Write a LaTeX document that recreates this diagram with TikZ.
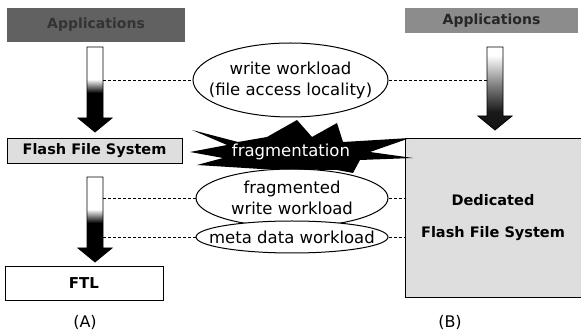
\documentclass[tikz,border=0pt]{standalone}
\usepackage{fontspec}
\setmainfont{DejaVu Sans}
\usetikzlibrary{shapes.geometric}

\pgfdeclareverticalshading{fadeA}{100bp}{color(0bp)=(black); color(48bp)=(black); color(52bp)=(black!50); color(56bp)=(white); color(100bp)=(white)}
\pgfdeclareverticalshading{fadeB}{100bp}{color(0bp)=(black); color(36bp)=(black!90); color(52bp)=(black!50); color(70bp)=(white); color(100bp)=(white)}

\newcommand{\fatarrow}[4][fadeA]{%
  \shade[shading=#1, draw=black, line width=0.8pt]
    (#2-8,#3) -- (#2+8,#3) -- (#2+8,#4-14) -- (#2+17,#4-14) -- (#2,#4)
    -- (#2-17,#4-14) -- (#2-8,#4-14) -- cycle;}

\begin{document}
\begin{tikzpicture}[x=1pt,y=-1pt,
  appbox/.style={rectangle, draw=none, text=black!85, font=\fontsize{14}{16}\selectfont\bfseries},
  fsbox/.style={rectangle, draw=black, line width=0.8pt, fill=black!13, font=\fontsize{14.5}{17}\selectfont\bfseries},
  wl/.style={ellipse, draw=black, line width=1pt, fill=white, inner sep=0pt},
  wltext/.style={align=center, font=\fontsize{16.5}{21}\selectfont},
  dashline/.style={draw=black, line width=0.6pt, dash pattern=on 3pt off 2pt}]
\useasboundingbox (0,0) rectangle (581,336);

\node[appbox, fill=black!62, text=black!80, minimum width=178pt, minimum height=34pt] (appA) at (96,25) {Applications};
\node[appbox, fill=black!45, minimum width=173pt, minimum height=25pt] (appB) at (491.5,20.5) {Applications};
\node[fsbox, minimum width=175pt, minimum height=25pt] (ffsA) at (94.5,150.5) {Flash File System};
\node[fsbox, fill=white, minimum width=158pt, minimum height=34pt, font=\fontsize{15}{17}\selectfont\bfseries] (ftl) at (84,283) {FTL};
\node[fsbox, minimum width=176pt, minimum height=159pt, align=center] (dffs) at (493,217.5) {Dedicated\\[15pt]Flash File System};

\fatarrow{95}{47}{132}
\fatarrow{95}{177}{262}
\fatarrow[fadeB]{495}{47}{130}
\coordinate (shA1) at (103,80);
\coordinate (shA2) at (103,198);
\coordinate (shA3) at (103,237);
\coordinate (shB) at (487,80);

\node[wl, minimum width=195pt, minimum height=74pt] (wlA) at (290.5,80) {};
\node[wltext] at (wlA) {write workload\\(file access locality)};
\node[wl, minimum width=192pt, minimum height=58pt] (fwl) at (292,198) {};
\node[wltext] at (fwl) {fragmented\\write workload};
\node[wl, minimum width=192pt, minimum height=32pt] (mwl) at (292,237) {};
\node[wltext] at (mwl) {meta data workload};

\coordinate (fragc) at (291,152);
\fill[black, shift={(fragc)}] (-99,-22) -- (-53,-10) -- (-24,-15) -- (6,-32) -- (21,-15)
  -- (46,-29) -- (52,-10) -- (119,-14) -- (79,0) -- (122,6) -- (69,8) -- (62,21)
  -- (46,18) -- (-30,17) -- (-94,13) -- (-68,6) -- (-101,0) -- (-64,-7) -- cycle;
\node[text=white, font=\fontsize{16.5}{19}\selectfont] (frag) at (fragc) {fragmentation};

\draw[dashline] (shA1) -- (wlA.west);
\draw[dashline] (wlA.east) -- (shB);
\draw[dashline] (shA2) -- (fwl.west);
\draw[dashline] (fwl.east) -- (fwl.east -| dffs.west);
\draw[dashline] (shA3) -- (mwl.west);
\draw[dashline] (mwl.east) -- (mwl.east -| dffs.west);

\node[font=\fontsize{16}{18}\selectfont] (labA) at (85,322) {(A)};
\node[font=\fontsize{16}{18}\selectfont] (labB) at (450,322) {(B)};
\end{tikzpicture}
\end{document}
